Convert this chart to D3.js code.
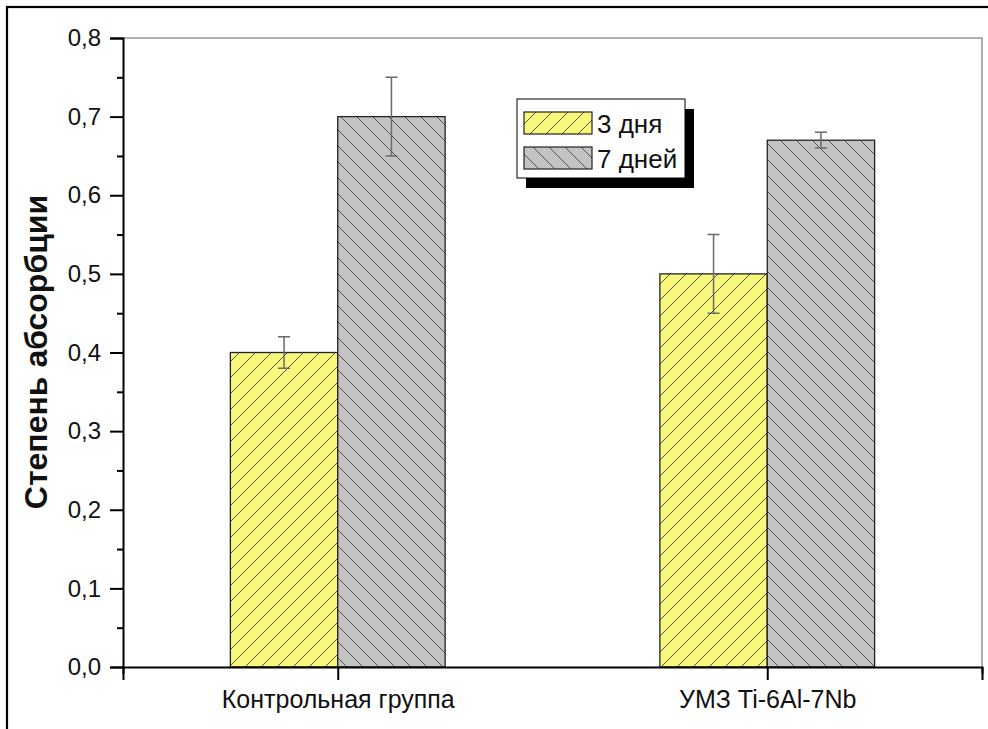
<!DOCTYPE html>
<html>
<head>
<meta charset="utf-8">
<script src="https://cdn.jsdelivr.net/npm/d3@7"></script>
<style>
  html, body { margin: 0; padding: 0; background: #fff; }
  svg { display: block; font-family: Arial, "Liberation Sans", sans-serif; }
</style>
</head>
<body>
<svg id="chart" width="988" height="729"></svg>
<script>
// Absorption degree after 3 and 7 days, per sample group
const groups = ["Контрольная группа", "УМЗ Ti-6Al-7Nb"];
const seriesNames = ["3 дня", "7 дней"];
const values3 = [0.40, 0.50];
const values7 = [0.70, 0.67];
const errors3 = [0.02, 0.05];
const errors7 = [0.05, 0.01];
const yTicks = [0, 0.1, 0.2, 0.3, 0.4, 0.5, 0.6, 0.7, 0.8];
const yMinorTicks = [0.05, 0.15, 0.25, 0.35, 0.45, 0.55, 0.65, 0.75];
const yTitle = "Степень абсорбции";

const svg = d3.select("#chart");
const W = 988, H = 729;
const m = { left: 123, right: 982, top: 38, bottom: 667 };
const FONT = "Arial, 'Liberation Sans', sans-serif";

// outer frame
svg.append("rect").attr("x", 7).attr("y", 7).attr("width", W + 10).attr("height", H + 10)
  .attr("fill", "#fff").attr("stroke", "#000").attr("stroke-width", 2.2);

const x = d3.scaleLinear().domain([0.5, 2.5]).range([m.left, m.right]);
const y = d3.scaleLinear().domain([0, 0.8]).range([m.bottom, m.top]);
const barW = 0.25;

// hatch patterns
const defs = svg.append("defs");
function hatch(id, fill, dir) {
  const s = 16;
  const p = defs.append("pattern").attr("id", id).attr("patternUnits", "userSpaceOnUse")
    .attr("width", s).attr("height", s);
  p.append("rect").attr("width", s).attr("height", s).attr("fill", fill);
  const pathD = dir > 0
    ? `M0,${s} L${s},0 M${-s / 2},${s / 2} L${s / 2},${-s / 2} M${s / 2},${s * 1.5} L${s * 1.5},${s / 2}`
    : `M0,0 L${s},${s} M${-s / 2},${s / 2} L${s / 2},${s * 1.5} M${s / 2},${-s / 2} L${s * 1.5},${s / 2}`;
  p.append("path").attr("d", pathD).attr("stroke", "#55554c").attr("stroke-width", 1);
}
hatch("h3", "#f7f77c", 1);
hatch("h7", "#c3c3c3", -1);

// top and right frame of plot
svg.append("path")
  .attr("d", `M${m.left},${m.top} H${m.right} V${m.bottom}`)
  .attr("fill", "none").attr("stroke", "#999").attr("stroke-width", 1.6);

// bars
const rows = groups.map((g, i) => ({ g, i, pos: i + 1 }));
const fills = ["url(#h3)", "url(#h7)"];
const vals = [values3, values7];
const errs = [errors3, errors7];

[0, 1].forEach(s => {
  svg.append("g").selectAll("rect").data(rows).join("rect")
    .attr("x", d => x(d.pos - barW + s * barW))
    .attr("width", d => x(d.pos + barW) - x(d.pos))
    .attr("y", d => y(vals[s][d.i]))
    .attr("height", d => y(0) - y(vals[s][d.i]))
    .attr("fill", fills[s]).attr("stroke", "#222").attr("stroke-width", 1.3);
});

// error bars
[0, 1].forEach(s => {
  const g = svg.append("g").attr("stroke", "#6a6a6a").attr("stroke-width", 1.5).attr("fill", "none");
  rows.forEach(d => {
    const cx = x(d.pos - barW / 2 + s * barW);
    const v = vals[s][d.i], e = errs[s][d.i];
    g.append("path").attr("d",
      `M${cx},${y(v - e)} V${y(v + e)} M${cx - 6},${y(v + e)} H${cx + 6} M${cx - 6},${y(v - e)} H${cx + 6}`);
  });
});

// y axis
const yAxis = d3.axisLeft(y).tickValues(yTicks).tickSize(13).tickPadding(9)
  .tickFormat(d => d3.format(".1f")(d).replace(".", ","));
const ya = svg.append("g").attr("transform", `translate(${m.left},0)`).call(yAxis);
ya.attr("font-size", 24).attr("font-family", FONT);
ya.select(".domain").attr("stroke", "#000").attr("stroke-width", 2);
ya.selectAll(".tick line").attr("stroke", "#000").attr("stroke-width", 2);
ya.selectAll(".tick text").attr("fill", "#111");
const yMinor = d3.axisLeft(y).tickValues(yMinorTicks).tickSize(6).tickFormat("");
const ym = svg.append("g").attr("transform", `translate(${m.left},0)`).call(yMinor);
ym.select(".domain").remove();
ym.selectAll(".tick line").attr("stroke", "#000").attr("stroke-width", 2);

// x axis
const xAxis = d3.axisBottom(x).tickValues([1, 2]).tickSize(13).tickPadding(10)
  .tickFormat(d => groups[d - 1]);
const xa = svg.append("g").attr("transform", `translate(0,${m.bottom})`).call(xAxis);
xa.attr("font-size", 25).attr("font-family", FONT);
xa.select(".domain").attr("stroke", "#000").attr("stroke-width", 2);
xa.selectAll(".tick line").attr("stroke", "#000").attr("stroke-width", 2);
xa.selectAll(".tick text").attr("fill", "#111");
const xMinor = d3.axisBottom(x).tickValues([0.5, 2.5]).tickSize(7).tickFormat("");
const xm = svg.append("g").attr("transform", `translate(0,${m.bottom})`).call(xMinor);
xm.select(".domain").remove();
xm.selectAll(".tick line").attr("stroke", "#000").attr("stroke-width", 2);

// y title
svg.append("text")
  .attr("transform", `translate(47,352) rotate(-90)`)
  .attr("text-anchor", "middle").attr("font-weight", "bold").attr("font-size", 32)
  .attr("font-family", FONT).attr("fill", "#111").text(yTitle);

// legend
const lg = svg.append("g").attr("transform", "translate(517,99)");
lg.append("rect").attr("x", 9).attr("y", 10).attr("width", 168).attr("height", 79).attr("fill", "#000");
lg.append("rect").attr("x", 0).attr("y", 0).attr("width", 168).attr("height", 79)
  .attr("fill", "#fff").attr("stroke", "#000").attr("stroke-width", 1);
seriesNames.forEach((n, i) => {
  lg.append("rect").attr("x", 7).attr("y", 13 + i * 35).attr("width", 68).attr("height", 22)
    .attr("fill", fills[i]).attr("stroke", "#222").attr("stroke-width", 1.2);
  lg.append("text").attr("x", 80).attr("y", 34 + i * 35).attr("font-size", 26)
    .attr("font-family", FONT).attr("fill", "#111").text(n);
});
</script>
</body>
</html>
